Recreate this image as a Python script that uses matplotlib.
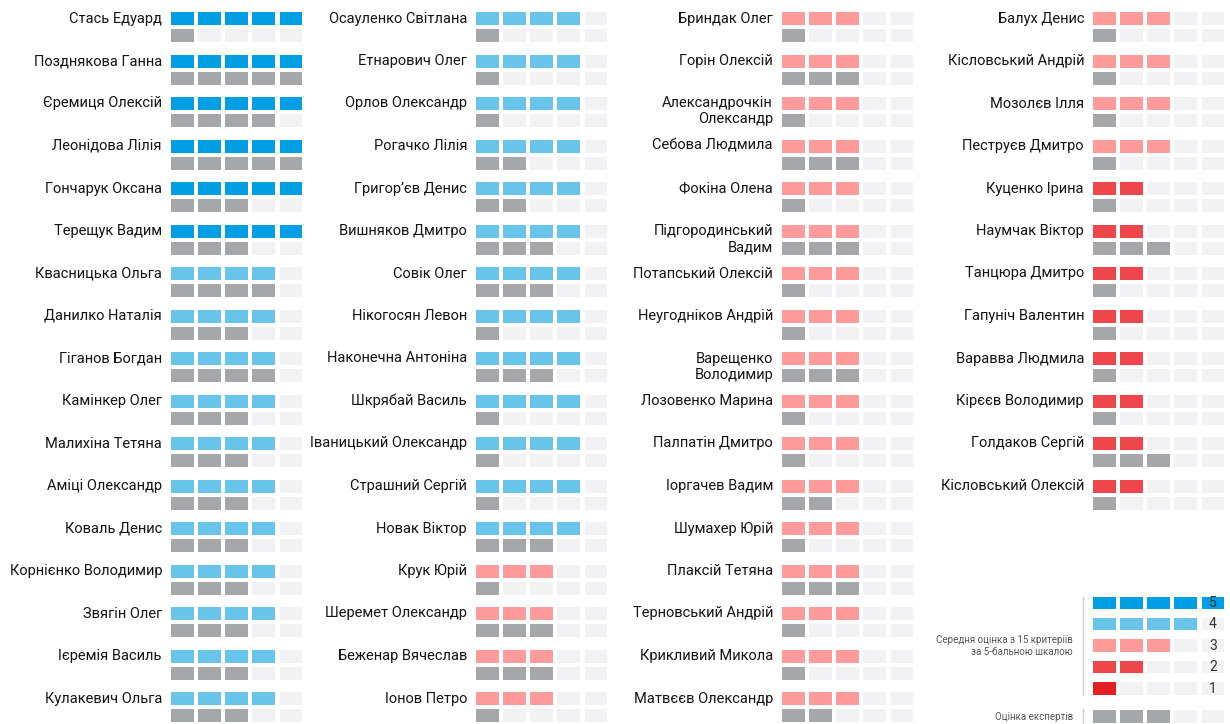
import matplotlib
matplotlib.use('Agg')
import matplotlib.pyplot as plt
from matplotlib.patches import Rectangle

plt.rcParams['font.family'] = ['Roboto', 'DejaVu Sans']

# average score (1-5) and expert score per person, four columns
names_1 = ['Стась Едуард', 'Позднякова Ганна', 'Єремиця Олексій', 'Леонідова Лілія',
           'Гончарук Оксана', 'Терещук Вадим', 'Квасницька Ольга', 'Данилко Наталія',
           'Гіганов Богдан', 'Камінкер Олег', 'Малихіна Тетяна', 'Аміці Олександр',
           'Коваль Денис', 'Корнієнко Володимир', 'Звягін Олег', 'Ієремія Василь',
           'Кулакевич Ольга']
avg_1 = [5, 5, 5, 5, 5, 5, 4, 4, 4, 4, 4, 4, 4, 4, 4, 4, 4]
expert_1 = [1, 5, 4, 5, 3, 3, 4, 3, 4, 3, 3, 3, 3, 3, 3, 3, 3]

names_2 = ['Осауленко Світлана', 'Етнарович Олег', 'Орлов Олександр', 'Рогачко Лілія',
           'Григор’єв Денис', 'Вишняков Дмитро', 'Совік Олег', 'Нікогосян Левон',
           'Наконечна Антоніна', 'Шкрябай Василь', 'Іваницький Олександр', 'Страшний Сергій',
           'Новак Віктор', 'Крук Юрій', 'Шеремет Олександр', 'Беженар Вячеслав',
           'Іонов Петро']
avg_2 = [4, 4, 4, 4, 4, 4, 4, 4, 4, 4, 4, 4, 4, 3, 3, 3, 3]
expert_2 = [1, 1, 1, 2, 2, 3, 3, 1, 3, 1, 1, 1, 3, 1, 3, 3, 1]

names_3 = ['Бриндак Олег', 'Горін Олексій', 'Александрочкін\nОлександр', 'Себова Людмила',
           'Фокіна Олена', 'Підгородинський\nВадим', 'Потапський Олексій', 'Неугодніков Андрій',
           'Варещенко\nВолодимир', 'Лозовенко Марина', 'Палпатін Дмитро', 'Іоргачев Вадим',
           'Шумахер Юрій', 'Плаксій Тетяна', 'Терновський Андрій', 'Крикливий Микола',
           'Матвєєв Олександр']
avg_3 = [3, 3, 3, 3, 3, 3, 3, 3, 3, 3, 3, 3, 3, 3, 3, 3, 3]
expert_3 = [1, 3, 1, 3, 1, 3, 1, 1, 3, 1, 1, 2, 1, 3, 1, 1, 2]

names_4 = ['Балух Денис', 'Кісловський Андрій', 'Мозолєв Ілля', 'Пеструєв Дмитро',
           'Куценко Ірина', 'Наумчак Віктор', 'Танцюра Дмитро', 'Гапуніч Валентин',
           'Варавва Людмила', 'Кірєєв Володимир', 'Голдаков Сергій', 'Кісловський Олексій']
avg_4 = [3, 3, 3, 3, 2, 2, 2, 2, 2, 2, 2, 2]
expert_4 = [1, 1, 1, 1, 1, 3, 1, 1, 1, 1, 3, 1]

legend_levels = [5, 4, 3, 2, 1]
legend_expert = 3
legend_label = 'Середня оцінка з 15 критеріїв\nза 5-бальною шкалою'
legend_expert_label = 'Оцінка експертів'

score_colors = {5: '#009FE3', 4: '#68C4E9', 3: '#FF9B9B', 2: '#EE464B', 1: '#E31E24'}
grey = '#A6A7AA'
empty = '#F2F2F4'

fig = plt.figure(figsize=(12.3, 7.24), dpi=100)
ax = fig.add_axes([0, 0, 1, 1])
ax.set_xlim(0, 1230)
ax.set_ylim(724, 0)
ax.axis('off')

col_x = [171, 476, 782, 1093]
row_top = 12
row_step = 42.5
sq_w, sq_h, sq_step = 22.5, 13, 27.15
expert_off = 17


def squares(x0, y, n, color, h=sq_h):
    for k in range(5):
        c = color if k < n else empty
        ax.add_patch(Rectangle((x0 + k * sq_step, y), sq_w, h, facecolor=c, edgecolor='none'))


columns = [(names_1, avg_1, expert_1), (names_2, avg_2, expert_2),
           (names_3, avg_3, expert_3), (names_4, avg_4, expert_4)]

for x0, (names, avgs, experts) in zip(col_x, columns):
    for i, (name, a, e) in enumerate(zip(names, avgs, experts)):
        y = row_top + i * row_step
        squares(x0, y, a, score_colors[a])
        squares(x0, y + expert_off, e, grey)
        for j, line in enumerate(name.split('\n')):
            ax.text(x0 - 9, y + 10.5 + j * 16, line, ha='right', va='baseline',
                    fontsize=10.5, color='#151515')

# legend
lx = col_x[3]
ly = 596.5
lstep = 21.4
for r, v in enumerate(legend_levels):
    y = ly + r * lstep
    squares(lx, y, v, score_colors[v], h=12.5)
    ax.text(lx + 4 * sq_step + sq_w / 2, y + 6.5, str(v), ha='center', va='center',
            fontsize=10, color='#333333')
squares(lx, 710, legend_expert, grey, h=12.5)

ax.plot([lx - 10, lx - 10], [ly, ly + 4 * lstep + 12.5], color='#d0d0d0', lw=1)
ax.plot([lx - 10, lx - 10], [709, 723], color='#d0d0d0', lw=1)
ax.text(lx - 20, ly + 2 * lstep + 6.5, legend_label, ha='right', va='center',
        fontsize=7, color='#555555', linespacing=1.3)
ax.text(lx - 20, 716.5, legend_expert_label, ha='right', va='center',
        fontsize=7, color='#555555')

fig.savefig('out.png', dpi=100, facecolor='white')
